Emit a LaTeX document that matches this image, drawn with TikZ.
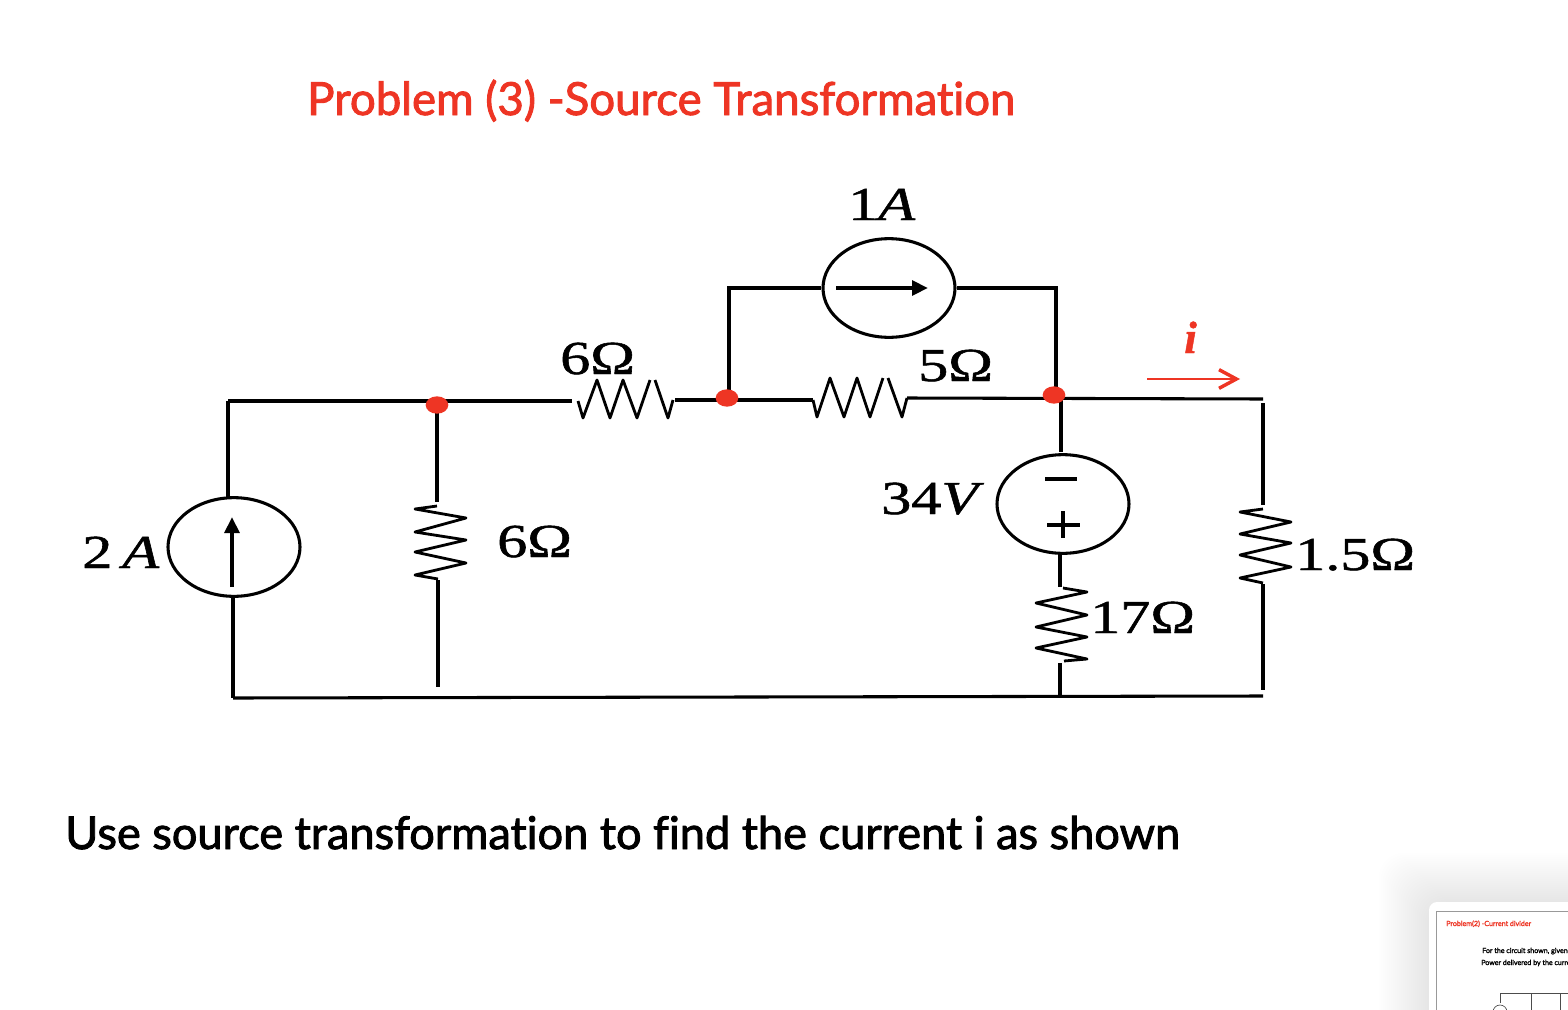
\documentclass[tikz,border=0pt]{standalone}
\usepackage{fontspec}
\usepackage{graphicx}
\usetikzlibrary{shapes.geometric,arrows.meta}
\setmainfont{Liberation Serif}[FakeBold=1]
\newfontfamily\plainserif{Liberation Serif}
\newfontfamily\handfont{Lato}[Ligatures=NoCommon,FakeBold=2]
\definecolor{probred}{HTML}{EE3524}
\newcommand{\wideval}[1]{\scalebox{1.27}[1]{#1}}
\tikzset{
 wire/.style={line width=2.3pt,line join=miter,black},
 zigzag/.style={line width=2.1pt,line join=round,black},
 srcring/.style={ellipse,draw,line width=2.3pt,inner sep=0pt,minimum width=99pt,minimum height=74pt},
 junction/.style={ellipse,fill=probred,inner sep=0pt,minimum width=17pt,minimum height=13pt},
 val/.style={font=\fontsize{35.5pt}{36pt}\selectfont,anchor=base west,inner sep=0pt},
 srcarrow/.style={line width=2.8pt,-{Triangle[length=12pt,width=11pt]}},
 headline/.style={anchor=base west,inner sep=0pt,font=\handfont\fontsize{32pt}{32pt}\selectfont},
 thumbtext/.style={anchor=base west,inner sep=0pt,font=\handfont\fontsize{5.3pt}{6pt}\selectfont}
}
\begin{document}
\begin{tikzpicture}[x=0.75pt,y=-0.75pt]
\useasboundingbox (0,0) rectangle (1568,1010);
\fill[white] (0,0) rectangle (1568,1010);
\clip (0,0) rectangle (1568,1010);
% preview card in the corner
\foreach \s in {2,4,...,50}
  \fill[black,opacity=0.0035,rounded corners=18pt] (1429-\s,903-\s) rectangle (1640,1060);
\fill[white,rounded corners=6pt] (1429,902) rectangle (1640,1060);
\draw[gray!80,line width=0.6pt] (1436,911) rectangle (1640,1060);
\node[thumbtext,text=probred] (thumbA) at (1446,926) {Problem(2) -Current divider};
\node[thumbtext] (thumbB) at (1482,953) {For the circuit shown, given};
\node[thumbtext] (thumbC) at (1481,965) {Power delivered by the current};
\coordinate (tA) at (1500,1003); \coordinate (tB) at (1500,993); \coordinate (tC) at (1531,993);
\coordinate (tD) at (1560,993); \coordinate (tE) at (1570,993);
\draw[black!70,line width=0.5pt] (tA)--(tB)--(tE) (tC)--++(0,20) (tD)--++(0,20);
\draw[black!70,line width=0.5pt] (1500,1012) circle[radius=7];

% title and caption
\node[headline,text=probred] (title) at (307,115) {\resizebox{531pt}{!}{Problem (3) -Source Transformation}};
\node[headline] (caption) at (65,849) {\resizebox{836pt}{!}{Use source transformation to find the current i as shown}};

% sources
\node[srcring] (src2) at (234,547) {};
\node[srcring] (src1) at (889,288) {};
\node[srcring] (src34) at (1063,504) {};

% named points
\coordinate (tl) at (228,401);
\coordinate (bl) at (233,698);
\coordinate (nA) at (437,405);
\coordinate (nB) at (727,398);
\coordinate (nC) at (1054,395);
\coordinate (legL) at (729,400);
\coordinate (legR) at (1056,395);
\coordinate (rtop) at (1263,399);
\coordinate (rbot) at (1263,696);
\coordinate (brR) at (1060,697);

% left loop
\draw[wire] (tl) -- (228,497);
\draw[wire] (tl) -- (572,401);
\draw[wire] (233,597) -- (bl);
\draw[wire] (bl) -- (rbot);
\draw[srcarrow] (232,587) -- (232,517);

% shunt 6 ohm
\draw[wire] (437,405) -- (437,502);
\draw[zigzag] (437,506) -- (415,509) -- (466,518) -- (415,532) -- (466,540) -- (415,552) -- (466,563) -- (415,575) -- (438,579);
\draw[wire] (438,580) -- (438,687);

% series 6 ohm
\draw[zigzag] (578,401) -- (583,418) -- (597,380) -- (610,418) -- (623,380) -- (637,418) -- (650,380);
\draw[zigzag] (655,380) -- (668,418) -- (673,400);
\draw[wire] (675,400) -- (legL);

% series 5 ohm
\draw[wire] (legL) -- (813,400);
\draw[zigzag] (813,400) -- (817,417) -- (830,378) -- (844,417) -- (857,378) -- (870,417) -- (883,378);
\draw[zigzag] (888,378) -- (902,417) -- (907,398);
\draw[wire] (907,398) -- (rtop);

% top branch
\draw[wire] (legL) |- (src1.west);
\draw[wire] (src1.east) -| (legR);
\draw[srcarrow] (836,288) -- (928,288);

% 34 V branch
\draw[wire] (1061,400) -- (1061,452);
\draw[wire] (1045,479) -- (1077,479);
\draw[wire] (1047,525) -- (1080,525);
\draw[wire] (1063,511) -- (1063,538);
\draw[wire] (1060,554) -- (1060,587);
\draw[zigzag] (1063,588) -- (1087,592) -- (1036,603) -- (1087,615) -- (1036,627) -- (1087,637) -- (1036,648) -- (1087,659) -- (1064,661);
\draw[wire] (1060,663) -- (brR);

% right branch
\draw[wire] (1263,403) -- (1263,505);
\draw[zigzag] (1263,509) -- (1240,512) -- (1291,522) -- (1240,534) -- (1291,543) -- (1240,555) -- (1291,567) -- (1240,578) -- (1263,583);
\draw[wire] (1263,584) -- (1263,690);

% junction dots
\node[junction] (dotA) at (nA) {};
\node[junction] (dotB) at (nB) {};
\node[junction] (dotC) at (nC) {};

% current marker
\coordinate (iA) at (1147,379);
\coordinate (iB) at (1240,379);
\draw[probred,line width=2pt,-{Straight Barb[length=13pt,width=14pt,line width=2.6pt]}] (iA) -- (iB);
\node[val,text=probred] (ilabel) at (1184,353) {\fontsize{34pt}{34pt}\selectfont\bfseries\itshape i};

% values
\node[val] (v1) at (848,220) {\wideval{1\textit{A}}};
\node[val] (v2) at (82,568) {\wideval{2\,\textit{A}}};
\node[val] (v3) at (560,374) {\wideval{6Ω}};
\node[val] (v4) at (918,381) {\wideval{5Ω}};
\node[val] (v5) at (497,557) {\wideval{6Ω}};
\node[val] (v6) at (881,514) {\wideval{34\textit{V}}};
\node[val] (v7) at (1090,633) {\wideval{17Ω}};
\node[val] (v8) at (1295,570) {\wideval{1.5Ω}};
\end{tikzpicture}
\end{document}
